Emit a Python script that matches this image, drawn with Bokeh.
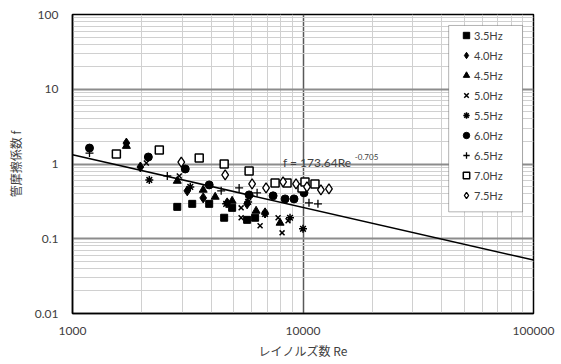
from bokeh.plotting import figure
from bokeh.models import FixedTicker, NumeralTickFormatter, Label, BoxAnnotation
from bokeh.embed import file_html
from bokeh.resources import INLINE

# ---- data (Re, f) per frequency ----
re_35 = [2848, 3307, 3918, 4550, 4927, 5722, 6198]
f_35 = [0.267, 0.293, 0.293, 0.191, 0.259, 0.179, 0.191]

re_40 = [1713, 1970, 3147, 3690, 4688, 5722, 6846]
f_40 = [1.905, 0.912, 0.437, 0.352, 0.302, 0.293, 0.222]

re_45 = [1713, 2848, 3690, 4159, 4927, 6259, 7954]
f_45 = [1.738, 0.593, 0.450, 0.363, 0.321, 0.236, 0.163]

re_50 = [2091, 2906, 5390, 5390, 6514, 7797, 8612, 8114]
f_50 = [1.031, 0.692, 0.259, 0.191, 0.149, 0.191, 0.174, 0.120]

re_55 = [2154, 3243, 4642, 5780, 6846, 8784, 10000]
f_55 = [0.612, 0.494, 0.293, 0.311, 0.215, 0.191, 0.136]

re_60 = [1185, 2133, 3085, 3918, 5837, 7417, 8361, 9142, 10100]
f_60 = [1.634, 1.240, 0.858, 0.525, 0.386, 0.375, 0.341, 0.341, 0.411]

re_65 = [1185, 2578, 4416, 5283, 6322, 10616, 11610]
f_65 = [1.402, 0.692, 0.437, 0.479, 0.411, 0.302, 0.293]

re_70 = [1550, 2380, 3546, 4550, 5837, 7567, 8525, 9901, 10200, 11270]
f_70 = [1.359, 1.537, 1.202, 1.0, 0.807, 0.558, 0.558, 0.479, 0.575, 0.541]

re_75 = [2964, 4596, 6015, 6914, 8195, 9327, 10406, 11960, 12960]
f_75 = [1.063, 0.713, 0.541, 0.479, 0.575, 0.541, 0.494, 0.450, 0.464]

labels = ["3.5Hz", "4.0Hz", "4.5Hz", "5.0Hz", "5.5Hz", "6.0Hz", "6.5Hz", "7.0Hz", "7.5Hz"]

# trendline f = a * Re^b
fit_a = 173.64
fit_b = -0.705
fit_re = [1000, 100000]

x_ticks = [1000, 10000, 100000]
y_ticks = [0.01, 0.1, 1, 10, 100]

FONT = "Lato"
JP = "Noto Sans CJK JP"

p = figure(width=561, height=364, x_axis_type="log", y_axis_type="log",
           x_range=(1000, 100000), y_range=(0.01, 100),
           output_backend="svg", toolbar_location=None,
           min_border_left=72, min_border_right=28, min_border_top=14, min_border_bottom=51)
p.background_fill_color = "white"
p.border_fill_color = "white"
p.outline_line_color = "black"
p.outline_line_width = 1.5

x_minor = [m * 10 ** k for k in (3, 4) for m in range(2, 10)]
y_minor = [m * 10.0 ** k for k in (-2, -1, 0, 1) for m in range(2, 10)]

p.xaxis.ticker = FixedTicker(ticks=x_ticks, minor_ticks=x_minor)
p.yaxis.ticker = FixedTicker(ticks=y_ticks, minor_ticks=y_minor)
p.xaxis.formatter = NumeralTickFormatter(format="0")
p.yaxis.formatter = NumeralTickFormatter(format="0.[00]")

for ax in (p.xaxis, p.yaxis):
    ax.major_tick_line_color = None
    ax.minor_tick_line_color = None
    ax.axis_line_color = "black"
    ax.axis_line_width = 1.5
    ax.major_label_text_font = FONT
    ax.major_label_text_font_size = "12px"
    ax.major_label_text_color = "#404040"
    ax.axis_label_text_font = JP
    ax.axis_label_text_font_size = "12px"
    ax.axis_label_text_font_style = "normal"
    ax.axis_label_text_color = "#404040"

p.xaxis.axis_label = "レイノルズ数 Re"
p.yaxis.axis_label = "管摩擦係数 f"
p.xaxis.major_label_standoff = 7
p.yaxis.major_label_standoff = 8
p.xaxis.axis_label_standoff = 4
p.yaxis.axis_label_standoff = 8

p.xgrid.grid_line_color = "#595959"
p.xgrid.grid_line_width = 1.5
p.ygrid.grid_line_color = "#8c8c8c"
p.ygrid.grid_line_width = 2
p.xgrid.minor_grid_line_color = "#d0d0d0"
p.ygrid.minor_grid_line_color = "#d0d0d0"
p.xgrid.minor_grid_line_width = 1
p.ygrid.minor_grid_line_width = 1

# legend box (white, black border) behind the legend entries
legend_box = BoxAnnotation(left=42850, right=89640, top=71.36, bottom=0.2291,
                           fill_color="white", fill_alpha=1,
                           line_color="black", line_width=1, level="underlay")
p.add_layout(legend_box)

# trendline
fit_f = [fit_a * r ** fit_b for r in fit_re]
p.line(fit_re, fit_f, line_color="black", line_width=1.5)

p.scatter(re_35, f_35, marker="square", size=7, fill_color="black", line_color="black", legend_label=labels[0])
p.scatter(re_40, f_40, marker="diamond", size=10, fill_color="black", line_color="black", legend_label=labels[1])
p.scatter(re_45, f_45, marker="triangle", size=8, fill_color="black", line_color="black", legend_label=labels[2])
p.scatter(re_50, f_50, marker="x", size=7, line_color="black", line_width=1.5, legend_label=labels[3])
p.scatter(re_55, f_55, marker="asterisk", size=8, line_color="black", line_width=1.5, legend_label=labels[4])
p.scatter(re_60, f_60, marker="circle", size=8, fill_color="black", line_color="black", legend_label=labels[5])
p.scatter(re_65, f_65, marker="cross", size=8, line_color="black", line_width=1.3, legend_label=labels[6])
p.scatter(re_70, f_70, marker="square", size=8, fill_color="white", line_color="black", line_width=1.5, legend_label=labels[7])
p.scatter(re_75, f_75, marker="diamond", size=10, fill_color="white", line_color="black", line_width=1.3, legend_label=labels[8])

# equation label
eq = Label(x=8190, y=1.047, text="f = 173.64Re", text_font=FONT, text_font_size="12px",
           text_color="#404040", text_baseline="middle", text_align="left")
eq_sup = Label(x=16790, y=1.23, text="-0.705", text_font=FONT, text_font_size="8px",
               text_color="#404040", text_baseline="middle", text_align="left")
p.add_layout(eq)
p.add_layout(eq_sup)

lg = p.legend[0]
lg.location = (386, 108)
lg.margin = 0
lg.padding = 0
lg.spacing = 0
lg.label_height = 20
lg.glyph_height = 20
lg.glyph_width = 16
lg.label_standoff = 0
lg.border_line_color = None
lg.background_fill_alpha = 0
lg.label_text_font = FONT
lg.label_text_font_size = "11px"
lg.label_text_color = "#404040"

open("out.html", "w").write(file_html(p, INLINE))
